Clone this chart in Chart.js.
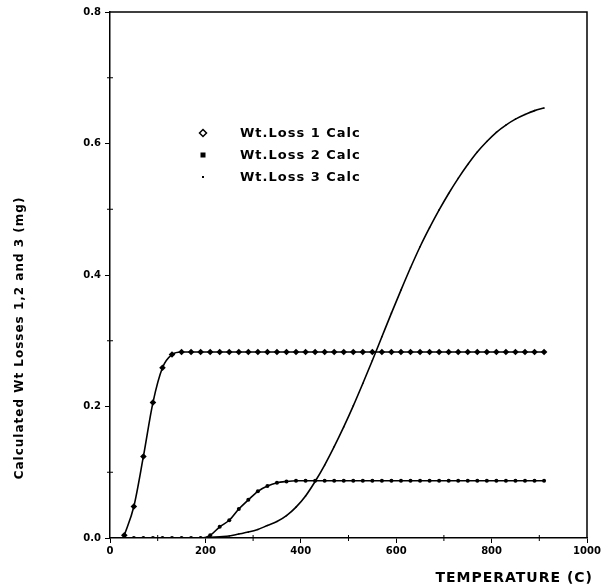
<!DOCTYPE html>
<html>
<head>
<meta charset="utf-8">
<script src="https://cdn.jsdelivr.net/npm/chart.js@4/dist/chart.umd.min.js"></script>
<style>
  html, body { margin: 0; padding: 0; background: #fff; }
  #wrap { width: 604px; height: 588px; }
</style>
</head>
<body>
<div id="wrap"><canvas id="lossChart" width="604" height="588"></canvas></div>
<script>
// Temperatures (C) at which the losses were calculated
const temps = [30, 50, 70, 90, 110, 130, 150, 170, 190, 210, 230, 250, 270, 290, 310,
    330, 350, 370, 390, 410, 430, 450, 470, 490, 510, 530, 550, 570, 590, 610,
    630, 650, 670, 690, 710, 730, 750, 770, 790, 810, 830, 850, 870, 890, 910];

// Calculated weight losses (mg)
const lossOne = [0.004, 0.048, 0.124, 0.206, 0.259, 0.279, 0.283, 0.283, 0.283, 0.283, 0.283, 0.283, 0.283, 0.283, 0.283,
    0.283, 0.283, 0.283, 0.283, 0.283, 0.283, 0.283, 0.283, 0.283, 0.283, 0.283, 0.283, 0.283, 0.283, 0.283,
    0.283, 0.283, 0.283, 0.283, 0.283, 0.283, 0.283, 0.283, 0.283, 0.283, 0.283, 0.283, 0.283, 0.283, 0.283];

const lossTwo = [0, 0, 0, 0, 0, 0, 0, 0, 0, 0.004, 0.017, 0.027, 0.044, 0.058, 0.071,
    0.079, 0.084, 0.086, 0.087, 0.087, 0.087, 0.087, 0.087, 0.087, 0.087, 0.087, 0.087, 0.087, 0.087, 0.087,
    0.087, 0.087, 0.087, 0.087, 0.087, 0.087, 0.087, 0.087, 0.087, 0.087, 0.087, 0.087, 0.087, 0.087, 0.087];

const lossThree = [0, 0, 0, 0, 0, 0, 0, 0, 0, 0.001, 0.002, 0.003, 0.006, 0.009, 0.013,
    0.019, 0.025, 0.034, 0.047, 0.064, 0.086, 0.111, 0.139, 0.169, 0.201, 0.235, 0.270, 0.306, 0.342, 0.377,
    0.411, 0.443, 0.472, 0.499, 0.524, 0.547, 0.568, 0.587, 0.603, 0.617, 0.628, 0.637, 0.644, 0.650, 0.654];

const seriesNames = ['Wt.Loss 1 Calc', 'Wt.Loss 2 Calc', 'Wt.Loss 3 Calc'];

const xTitle = 'TEMPERATURE (C)';
const yTitle = 'Calculated Wt Losses 1,2 and 3 (mg)';

const INK = '#000';
const FONT = "'DejaVu Sans', sans-serif";

function toPoints(values) {
    return temps.map((t, i) => ({ x: t, y: values[i] }));
}

// Frame, minor ticks, titles and the legend box
const extras = {
    id: 'extras',
    afterDraw(chart) {
        const ctx = chart.ctx;
        const a = chart.chartArea;
        const xs = chart.scales.x;
        const ys = chart.scales.y;
        ctx.save();
        ctx.strokeStyle = INK;
        ctx.lineWidth = 1.5;

        // top and right sides of the frame
        ctx.beginPath();
        ctx.moveTo(a.left, a.top);
        ctx.lineTo(a.right, a.top);
        ctx.lineTo(a.right, a.bottom);
        ctx.stroke();

        // minor ticks across the axes
        ctx.lineWidth = 1;
        ctx.beginPath();
        for (let v = 100; v < 1000; v += 200) {
            const px = xs.getPixelForValue(v);
            ctx.moveTo(px, a.bottom - 3);
            ctx.lineTo(px, a.bottom + 3);
        }
        [0.1, 0.3, 0.5, 0.7].forEach(v => {
            const py = ys.getPixelForValue(v);
            ctx.moveTo(a.left - 3, py);
            ctx.lineTo(a.left + 3, py);
        });
        ctx.stroke();

        // axis titles
        ctx.fillStyle = INK;
        ctx.font = 'bold 14px ' + FONT;
        ctx.letterSpacing = '1px';
        ctx.textAlign = 'right';
        ctx.textBaseline = 'middle';
        ctx.fillText(xTitle, 593, 578);

        ctx.font = 'bold 12px ' + FONT;
        ctx.textAlign = 'center';
        ctx.translate(20, 338);
        ctx.rotate(-Math.PI / 2);
        ctx.fillText(yTitle, 0, 0);
        ctx.setTransform(1, 0, 0, 1, 0, 0);

        // legend
        ctx.font = 'bold 13px ' + FONT;
        ctx.textAlign = 'left';
        const rows = [133, 155, 177];
        rows.forEach((y, i) => {
            const mx = 203;
            ctx.fillStyle = INK;
            if (i === 0) {
                ctx.lineWidth = 1.5;
                ctx.beginPath();
                ctx.moveTo(mx, y - 3.5);
                ctx.lineTo(mx + 3.5, y);
                ctx.lineTo(mx, y + 3.5);
                ctx.lineTo(mx - 3.5, y);
                ctx.closePath();
                ctx.stroke();
            } else if (i === 1) {
                ctx.fillRect(mx - 2.5, y - 2.5, 5, 5);
            } else {
                ctx.fillRect(mx - 1, y - 1, 2, 2);
            }
            ctx.fillText(seriesNames[i], 240, y + 1);
        });
        ctx.restore();
    }
};

new Chart(document.getElementById('lossChart'), {
    type: 'line',
    data: {
        datasets: [
            {
                label: seriesNames[0],
                data: toPoints(lossOne),
                borderColor: INK,
                backgroundColor: INK,
                borderWidth: 1.6,
                pointStyle: 'rectRot',
                pointRadius: 3.3,
                pointBorderWidth: 0,
                cubicInterpolationMode: 'monotone'
            },
            {
                label: seriesNames[1],
                data: toPoints(lossTwo),
                borderColor: INK,
                backgroundColor: INK,
                borderWidth: 1.6,
                pointStyle: 'circle',
                pointRadius: 2,
                pointBorderWidth: 0,
                cubicInterpolationMode: 'monotone'
            },
            {
                label: seriesNames[2],
                data: toPoints(lossThree),
                borderColor: INK,
                backgroundColor: INK,
                borderWidth: 1.6,
                pointStyle: 'circle',
                pointRadius: 0.8,
                pointBorderWidth: 0,
                cubicInterpolationMode: 'monotone'
            }
        ]
    },
    options: {
        responsive: false,
        animation: false,
        layout: { padding: { left: 0, right: 17, top: 12, bottom: 0 } },
        plugins: {
            legend: { display: false },
            tooltip: { enabled: false }
        },
        scales: {
            x: {
                type: 'linear',
                min: 0,
                max: 1000,
                afterFit: (scale) => { scale.height = 50; },
                border: { color: INK, width: 1.5 },
                grid: {
                    drawOnChartArea: false,
                    tickLength: 5,
                    tickColor: (c) => (c.tick && c.tick.value % 200 === 0) ? INK : 'rgba(0,0,0,0)'
                },
                ticks: {
                    stepSize: 100,
                    autoSkip: false,
                    maxRotation: 0,
                    padding: 2,
                    color: INK,
                    font: { family: FONT, size: 10, weight: 'bold' },
                    callback: (v) => (v % 200 === 0 ? String(v) : '')
                }
            },
            y: {
                min: 0,
                max: 0.8,
                afterFit: (scale) => { scale.width = 110; },
                border: { color: INK, width: 1.5 },
                grid: {
                    drawOnChartArea: false,
                    tickLength: 5,
                    tickColor: (c) => (c.tick && Math.round(c.tick.value * 10) % 2 === 0) ? INK : 'rgba(0,0,0,0)'
                },
                ticks: {
                    stepSize: 0.1,
                    autoSkip: false,
                    padding: 4,
                    color: INK,
                    font: { family: FONT, size: 10, weight: 'bold' },
                    callback: (v) => (Math.round(v * 10) % 2 === 0 ? v.toFixed(1) : '')
                }
            }
        }
    },
    plugins: [extras]
});
</script>
</body>
</html>
